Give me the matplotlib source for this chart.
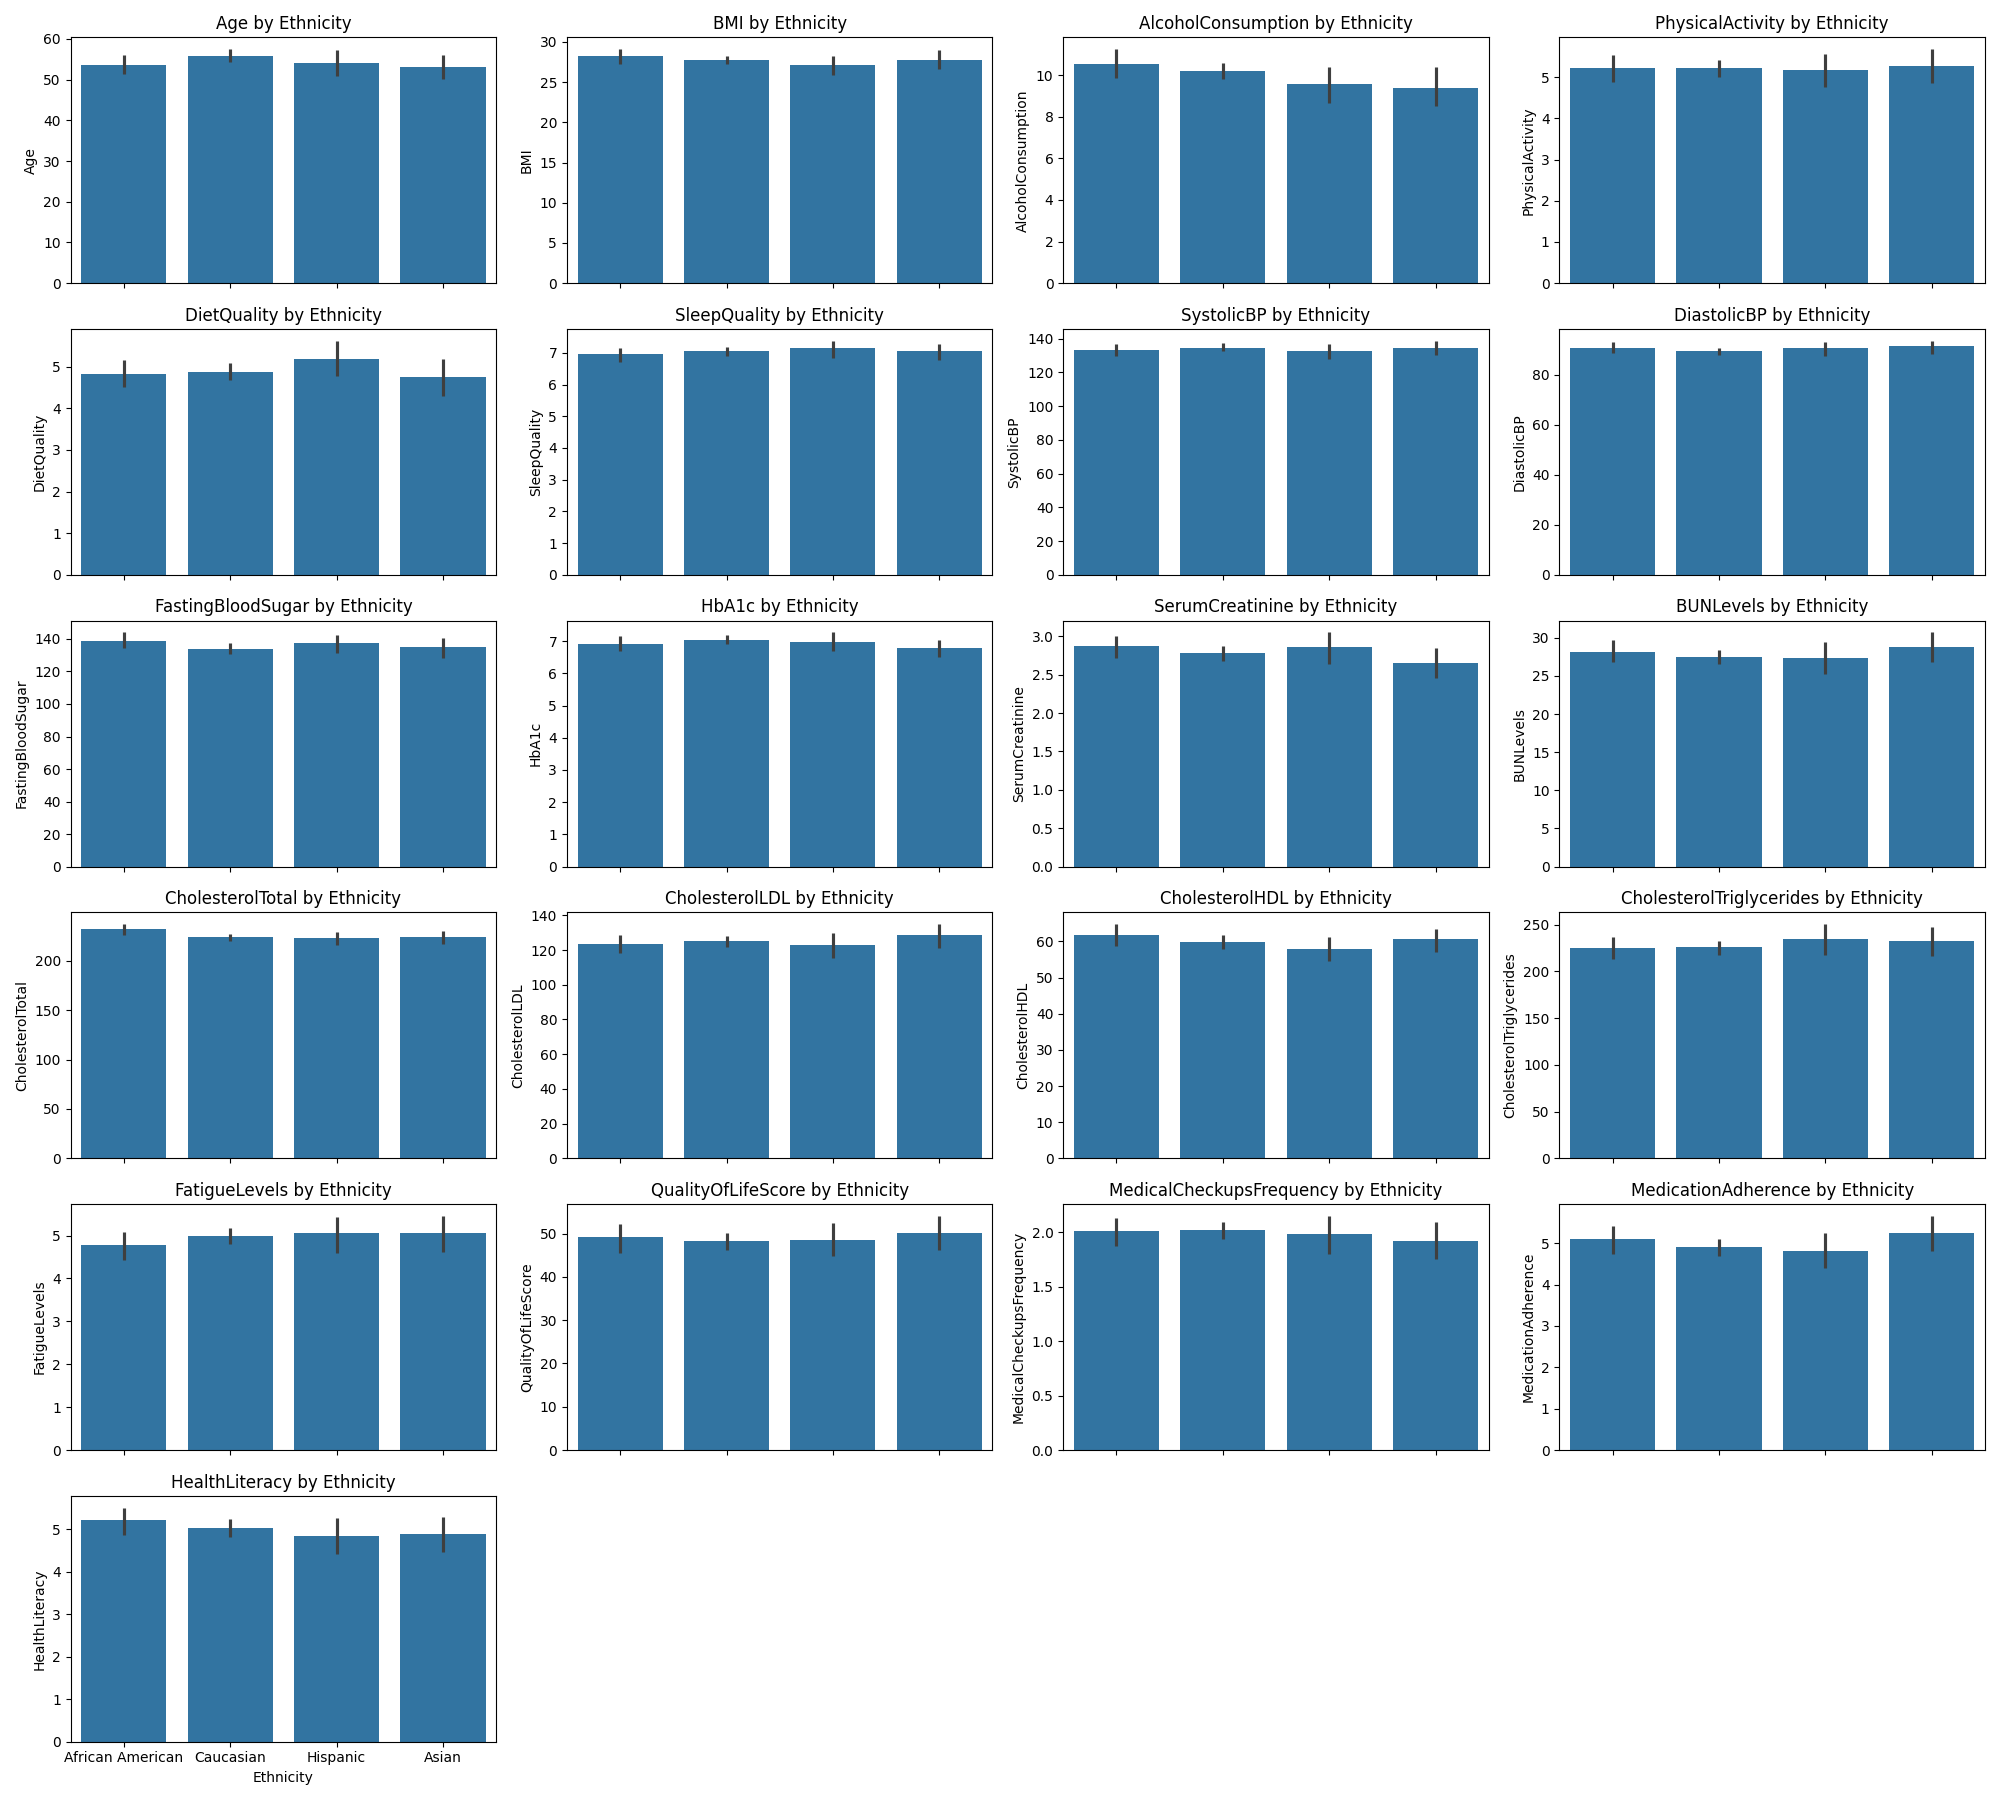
import matplotlib
matplotlib.use("Agg")
import matplotlib.pyplot as plt

# Grupos y columnas
ethnicity = ["African American", "Caucasian", "Hispanic", "Asian"]

columns = ["Age", "BMI", "AlcoholConsumption", "PhysicalActivity",
           "DietQuality", "SleepQuality", "SystolicBP", "DiastolicBP",
           "FastingBloodSugar", "HbA1c", "SerumCreatinine", "BUNLevels",
           "CholesterolTotal", "CholesterolLDL", "CholesterolHDL", "CholesterolTriglycerides",
           "FatigueLevels", "QualityOfLifeScore", "MedicalCheckupsFrequency", "MedicationAdherence",
           "HealthLiteracy"]

# Media por grupo y su intervalo de confianza (bajo, alto)
age = [53.7, 55.9, 54.0, 53.2]
age_ci = [(51.3, 56.0), (54.3, 57.5), (50.9, 57.3), (50.2, 56.0)]
bmi = [28.2, 27.7, 27.1, 27.8]
bmi_ci = [(27.3, 29.1), (27.2, 28.2), (25.9, 28.2), (26.6, 29.0)]
alcohol = [10.55, 10.2, 9.55, 9.4]
alcohol_ci = [(9.85, 11.25), (9.8, 10.6), (8.65, 10.4), (8.5, 10.4)]
physical = [5.22, 5.22, 5.18, 5.27]
physical_ci = [(4.88, 5.53), (5.0, 5.42), (4.75, 5.56), (4.85, 5.68)]
diet = [4.83, 4.88, 5.19, 4.74]
diet_ci = [(4.52, 5.16), (4.68, 5.08), (4.77, 5.62), (4.3, 5.18)]
sleep = [6.95, 7.05, 7.14, 7.05]
sleep_ci = [(6.72, 7.15), (6.9, 7.18), (6.83, 7.38), (6.77, 7.29)]
systolic = [133.5, 134.6, 132.5, 134.6]
systolic_ci = [(129.7, 136.6), (132.6, 137.1), (128.0, 136.6), (130.2, 138.7)]
diastolic = [90.8, 89.3, 90.6, 91.3]
diastolic_ci = [(88.5, 92.8), (87.7, 90.8), (87.5, 93.1), (88.3, 93.5)]
fbs = [139.0, 134.0, 137.3, 134.8]
fbs_ci = [(134.5, 144.0), (130.6, 137.3), (131.3, 142.7), (128.3, 140.3)]
hba1c = [6.92, 7.05, 6.98, 6.8]
hba1c_ci = [(6.68, 7.15), (6.9, 7.18), (6.7, 7.27), (6.5, 7.05)]
creatinine = [2.87, 2.78, 2.86, 2.65]
creatinine_ci = [(2.72, 3.01), (2.68, 2.87), (2.64, 3.05), (2.46, 2.85)]
bun = [28.2, 27.5, 27.4, 28.8]
bun_ci = [(26.8, 29.7), (26.6, 28.4), (25.3, 29.5), (26.8, 30.7)]
chol_total = [232.0, 224.0, 222.9, 224.0]
chol_total_ci = [(226.4, 237.3), (220.6, 227.2), (216.2, 229.5), (217.2, 230.2)]
chol_ldl = [123.3, 125.0, 122.9, 128.6]
chol_ldl_ci = [(118.5, 128.6), (122.0, 127.9), (115.6, 129.9), (121.3, 134.9)]
chol_hdl = [61.8, 59.9, 57.9, 60.6]
chol_hdl_ci = [(58.8, 64.8), (57.9, 61.8), (54.7, 61.2), (57.1, 63.5)]
chol_tri = [224.7, 225.9, 234.1, 232.0]
chol_tri_ci = [(213.3, 236.5), (217.8, 232.0), (217.8, 250.4), (216.6, 247.1)]
fatigue = [4.77, 5.0, 5.05, 5.05]
fatigue_ci = [(4.43, 5.09), (4.80, 5.18), (4.59, 5.44), (4.62, 5.46)]
qol = [49.1, 48.4, 48.6, 50.2]
qol_ci = [(45.5, 52.3), (46.1, 50.2), (44.8, 52.5), (46.2, 54.1)]
checkups = [2.012, 2.021, 1.985, 1.92]
checkups_ci = [(1.878, 2.13), (1.942, 2.095), (1.805, 2.152), (1.759, 2.095)]
adherence = [5.10, 4.91, 4.82, 5.25]
adherence_ci = [(4.75, 5.42), (4.70, 5.10), (4.39, 5.25), (4.82, 5.66)]
literacy = [5.21, 5.03, 4.84, 4.89]
literacy_ci = [(4.87, 5.51), (4.82, 5.24), (4.41, 5.26), (4.47, 5.29)]

means = [age, bmi, alcohol, physical, diet, sleep, systolic, diastolic,
         fbs, hba1c, creatinine, bun, chol_total, chol_ldl, chol_hdl, chol_tri,
         fatigue, qol, checkups, adherence, literacy]
cis = [age_ci, bmi_ci, alcohol_ci, physical_ci, diet_ci, sleep_ci, systolic_ci, diastolic_ci,
       fbs_ci, hba1c_ci, creatinine_ci, bun_ci, chol_total_ci, chol_ldl_ci, chol_hdl_ci, chol_tri_ci,
       fatigue_ci, qol_ci, checkups_ci, adherence_ci, literacy_ci]

fig, axes = plt.subplots(6, 4, figsize=(20, 18), sharex=True)
axes = axes.flatten()
x = list(range(len(ethnicity)))

for i, col in enumerate(columns):
    ax = axes[i]
    ax.bar(x, means[i], width=0.8, color="#3274a1")
    lo = [c[0] for c in cis[i]]
    hi = [c[1] for c in cis[i]]
    ax.vlines(x, lo, hi, color="#3f3f3f", linewidth=2.25)
    ax.set_title(f"{col} by Ethnicity", fontsize=12)
    ax.set_ylabel(col)
    ax.set_xlim(-0.5, len(ethnicity) - 0.5)

# Quitar los ejes vacios
for j in range(len(columns), len(axes)):
    fig.delaxes(axes[j])

axes[20].set_xticks(x)
axes[20].set_xticklabels(ethnicity)
axes[20].set_xlabel("Ethnicity")
axes[20].xaxis.set_tick_params(labelbottom=True)

plt.tight_layout()
plt.savefig("out.png", dpi=100)
